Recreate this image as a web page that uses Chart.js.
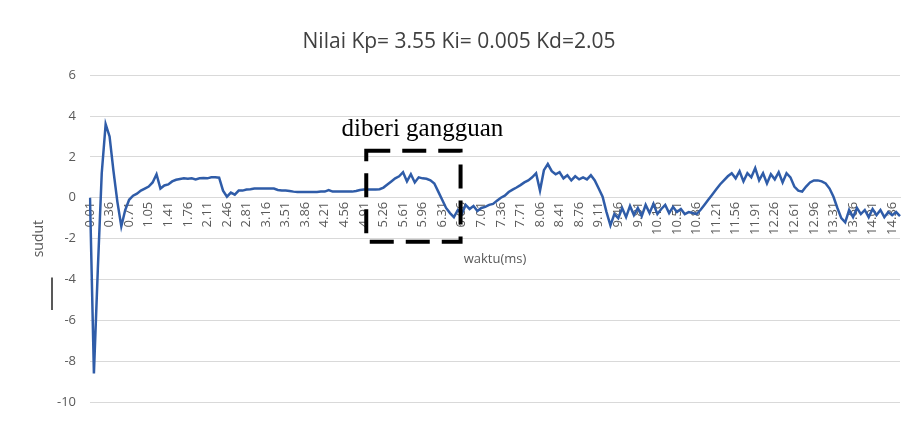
<!DOCTYPE html>
<html>
<head>
<meta charset="utf-8">
<script src="https://cdn.jsdelivr.net/npm/chart.js@4.4.1/dist/chart.umd.min.js"></script>
<style>
  html, body { margin: 0; padding: 0; background: #fff; }
  #wrap { width: 906px; height: 447px; }
</style>
</head>
<body>
<div id="wrap"><canvas id="myChart" width="906" height="447"></canvas></div>
<script>
// sudut per sample (about one sample every 0.07 ms)
var sudut = [
  0.0, -8.6, -3.5, 1.2, 3.6, 3.0, 1.3, -0.2, -1.4, -0.6, -0.1,
  0.1, 0.2, 0.35, 0.45, 0.55, 0.75, 1.15, 0.45, 0.6, 0.65, 0.8, 0.88, 0.92, 0.95,
  0.93, 0.95, 0.9, 0.95, 0.97, 0.95, 1.0, 1.0, 0.98, 0.35, 0.05,
  0.25, 0.15, 0.35, 0.35, 0.4, 0.42, 0.45, 0.45, 0.45, 0.45, 0.45, 0.45, 0.38, 0.35,
  0.35, 0.33, 0.3, 0.28, 0.28, 0.28, 0.28, 0.28, 0.28, 0.3, 0.3, 0.38, 0.3, 0.3,
  0.3, 0.3, 0.3, 0.3, 0.33, 0.38, 0.4, 0.4, 0.4, 0.4,
  0.42, 0.5, 0.65, 0.8, 0.95, 1.05, 1.25, 0.8, 1.15, 0.75, 1.0, 0.95, 0.93, 0.85,
  0.7, 0.3, -0.1, -0.5, -0.75, -0.95, -0.6, -0.8, -0.35, -0.55, -0.4, -0.65, -0.5,
  -0.45, -0.35, -0.3, -0.15, 0.0, 0.1, 0.28, 0.4, 0.5, 0.62, 0.75, 0.85, 1.0, 1.2,
  0.35, 1.35, 1.65, 1.3, 1.15, 1.25, 0.95, 1.1, 0.85, 1.05, 0.9, 1.0, 0.9, 1.1,
  0.85, 0.45, 0.05, -0.7, -1.35, -0.8, -1.0,
  -0.5, -0.95, -0.4, -0.85, -0.5, -0.9, -0.35, -0.75, -0.3, -0.8, -0.55, -0.35,
  -0.75, -0.45, -0.7, -0.55, -0.8, -0.7, -0.75, -0.8, -0.6, -0.35, -0.1, 0.15,
  0.4, 0.65, 0.85, 1.05, 1.2, 0.95, 1.3, 0.8, 1.2, 1.0, 1.45, 0.85, 1.2, 0.7,
  1.15, 0.9, 1.25, 0.75, 1.2, 1.0, 0.55, 0.35, 0.3, 0.55, 0.75, 0.85, 0.85, 0.8,
  0.7, 0.45, 0.05, -0.5, -1.0, -1.2, -0.6, -0.95, -0.5, -0.8, -0.6, -0.95, -0.55,
  -0.85, -0.6, -0.95, -0.7, -0.85, -0.7, -0.9
];

// axis labels as printed on the original (one every 5 samples)
var tickLabels = [
  '0.01', '0.36', '0.71', '1.05', '1.41', '1.76', '2.11', '2.46', '2.81', '3.16',
  '3.51', '3.86', '4.21', '4.56', '4.91', '5.26', '5.61', '5.96', '6.31', '6.66',
  '7.01', '7.36', '7.71', '8.06', '8.41', '8.76', '9.11', '9.46', '9.81', '10.16',
  '10.51', '10.86', '11.21', '11.56', '11.91', '12.26', '12.61', '12.96', '13.31', '13.66',
  '14.01', '14.36'
];
var labelEvery = 5;

// waktu (ms) of each sample
var waktu = sudut.map(function (v, i) { return (0.01 + i * 0.07).toFixed(2); });

var yTicks = { min: -10, max: 6, step: 2 };

// disturbance box (in data units) and its caption
var gangguan = { label: 'diberi gangguan', from: 70.6, to: 94.7, top: 2.3, bottom: -2.15 };

var annotasi = {
  id: 'annotasi',
  afterDatasetsDraw: function (chart) {
    var c = chart.ctx, x = chart.scales.x, y = chart.scales.y;
    var x1 = x.getPixelForValue(gangguan.from), x2 = x.getPixelForValue(gangguan.to);
    var y1 = y.getPixelForValue(gangguan.top), y2 = y.getPixelForValue(gangguan.bottom);
    c.save();
    c.strokeStyle = '#000';
    c.lineWidth = 4;
    c.setLineDash([24, 12]);
    c.strokeRect(x1, y1, x2 - x1, y2 - y1);
    c.setLineDash([]);
    c.fillStyle = '#000';
    c.font = '25px "Liberation Serif", "Times New Roman", serif';
    c.textAlign = 'center';
    c.textBaseline = 'alphabetic';
    c.fillText(gangguan.label, (x1 + x2) / 2 + 9, y1 - 15);
    // little stray tick left of the axis, as in the original
    c.strokeStyle = '#222';
    c.lineWidth = 1.5;
    c.beginPath();
    c.moveTo(52, y.getPixelForValue(-3.9));
    c.lineTo(52, y.getPixelForValue(-5.5));
    c.stroke();
    c.restore();
  }
};

var ctx = document.getElementById('myChart').getContext('2d');
var myChart = new Chart(ctx, {
  type: 'line',
  data: {
    labels: waktu,
    datasets: [{
      data: sudut,
      borderColor: '#2f5ca8',
      borderWidth: 2.5,
      pointRadius: 0,
      tension: 0,
      fill: false
    }]
  },
  plugins: [annotasi],
  options: {
    responsive: false,
    animation: false,
    layout: { padding: { left: 18, right: 6, top: 0, bottom: 45 } },
    plugins: {
      legend: { display: false },
      tooltip: { enabled: false },
      title: {
        display: true,
        text: 'Nilai Kp= 3.55 Ki= 0.005 Kd=2.05',
        color: '#404040',
        font: { family: '"Open Sans", sans-serif', size: 21, weight: 'normal' },
        padding: { top: 29, bottom: 21 }
      }
    },
    scales: {
      x: {
        position: { y: 0 },
        afterFit: function (s) { s.paddingLeft = 0; s.paddingRight = 0; },
        grid: { display: false, drawTicks: false },
        border: { display: true, color: '#d9d9d9' },
        ticks: {
          autoSkip: false,
          maxRotation: 90,
          minRotation: 90,
          padding: 4,
          color: '#595959',
          font: { family: '"Open Sans", sans-serif', size: 13 },
          callback: function (v, i) { return i % labelEvery === 0 && tickLabels[i / labelEvery] ? tickLabels[i / labelEvery] : ''; }
        },
        title: {
          display: true,
          text: 'waktu(ms)',
          color: '#595959',
          font: { family: '"Open Sans", sans-serif', size: 13 },
          padding: { top: 13, bottom: 0 }
        }
      },
      y: {
        min: yTicks.min,
        max: yTicks.max,
        afterFit: function (s) { s.width = 72; },
        grid: { color: '#d9d9d9', drawTicks: false },
        border: { display: false },
        ticks: {
          stepSize: yTicks.step,
          padding: 14,
          color: '#595959',
          font: { family: '"Open Sans", sans-serif', size: 13 }
        },
        title: {
          display: true,
          text: 'sudut',
          color: '#595959',
          font: { family: '"Open Sans", sans-serif', size: 14 },
          padding: { top: 13, bottom: 0 }
        }
      }
    }
  }
});
</script>
</body>
</html>
